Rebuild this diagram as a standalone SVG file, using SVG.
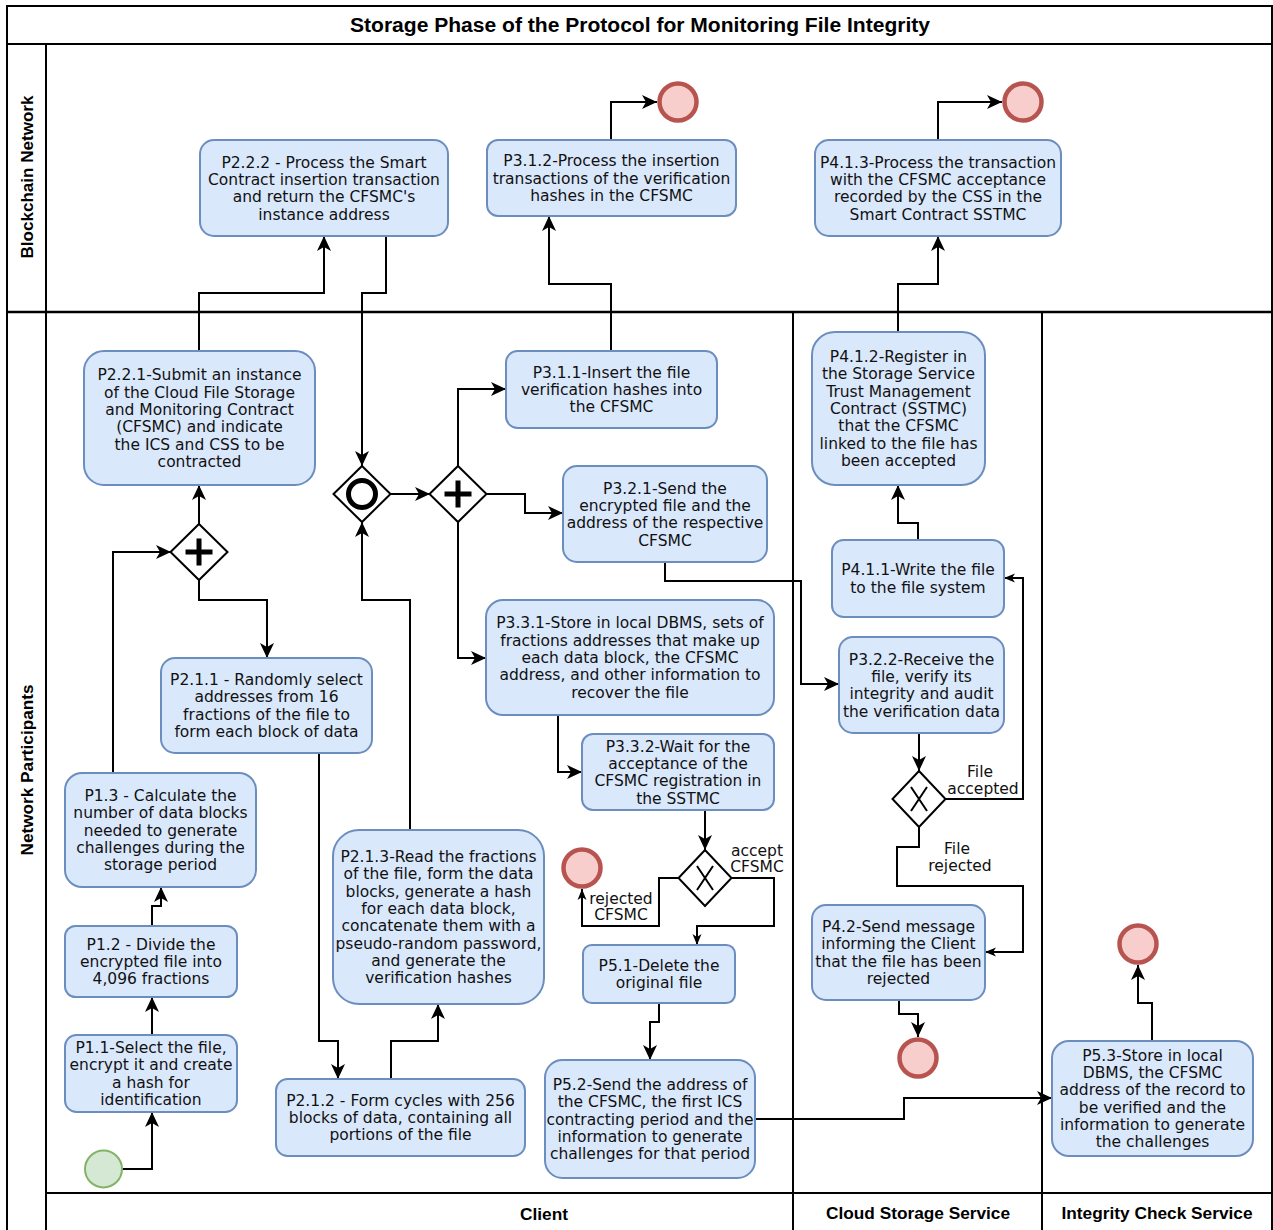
<svg xmlns="http://www.w3.org/2000/svg" width="1273" height="1230" viewBox="0 0 1273 1230">
<style>
.lane{fill:none;stroke:#000;stroke-width:2}
.hdr{font-family:"Liberation Sans",Arial,sans-serif;font-weight:bold;fill:#000;text-anchor:middle}
.node rect{fill:#dae8fc;stroke:#6c8ebf;stroke-width:2}
.node text,.lbl{font-family:"DejaVu Sans",Verdana,sans-serif;font-size:15.5px;fill:#111;text-anchor:middle}
.conn path{fill:none;stroke:#000;stroke-width:2;marker-end:url(#arr)}
.conn path.s{marker-end:url(#arrs)}
.end circle{fill:#f8cecc;stroke:#b85450;stroke-width:4.5}
.start circle{fill:#d5e8d4;stroke:#82b366;stroke-width:2}
.gw .d{fill:#fff;stroke:#000;stroke-width:2}
.gw .plus{stroke:#000;stroke-width:5;fill:none}
.gw .x{stroke:#000;stroke-width:2;fill:none}
.gw .o{fill:none;stroke:#000;stroke-width:5}
</style>
<defs>
<marker id="arr" markerUnits="userSpaceOnUse" markerWidth="16" markerHeight="16" viewBox="0 0 16 16" refX="15" refY="8" orient="auto">
<path d="M0,1 L15,8 L0,15 L4,8 z" fill="#000"/>
</marker>
<marker id="arrs" markerUnits="userSpaceOnUse" markerWidth="12" markerHeight="12" viewBox="0 0 12 12" refX="11" refY="6" orient="auto">
<path d="M0,1.5 L11,6 L0,10.5 L3,6 z" fill="#000"/>
</marker>
</defs>
<rect width="1273" height="1230" fill="#fff"/>
<g id="lanes">
<rect class="lane" x="7" y="6" width="1265" height="1240"/>
<line class="lane" x1="7" y1="44" x2="1272" y2="44"/>
<line class="lane" x1="46" y1="44" x2="46" y2="1230"/>
<line class="lane" x1="7" y1="312" x2="1272" y2="312" style="stroke-width:2.5"/>
<line class="lane" x1="793" y1="312" x2="793" y2="1230"/>
<line class="lane" x1="1042" y1="312" x2="1042" y2="1230"/>
<line class="lane" x1="46" y1="1193" x2="1272" y2="1193"/>
<text class="hdr" x="640" y="32" font-size="20" textLength="580" lengthAdjust="spacingAndGlyphs">Storage Phase of the Protocol for Monitoring File Integrity</text>
<text class="hdr" x="0" y="0" font-size="16" transform="translate(33,177) rotate(-90)" textLength="163" lengthAdjust="spacingAndGlyphs">Blockchain Network</text>
<text class="hdr" x="0" y="0" font-size="16" transform="translate(33,770) rotate(-90)" textLength="171" lengthAdjust="spacingAndGlyphs">Network Participants</text>
<text class="hdr" x="544" y="1220" font-size="16" textLength="48" lengthAdjust="spacingAndGlyphs">Client</text>
<text class="hdr" x="918" y="1219" font-size="16" textLength="184" lengthAdjust="spacingAndGlyphs">Cloud Storage Service</text>
<text class="hdr" x="1157" y="1219" font-size="16" textLength="191" lengthAdjust="spacingAndGlyphs">Integrity Check Service</text>
</g>
<g id="connectors" class="conn">
<path d="M199,351 V293 H324 V236"/>
<path d="M386,236 V293 H362 V466"/>
<path d="M611,351 V284 H549 V216"/>
<path d="M611,140 V102 H657"/>
<path d="M898,332 V284 H938 V236"/>
<path d="M938,140 V102 H1002"/>
<path d="M199,524 V485"/>
<path d="M113,773 V552 H171"/>
<path d="M199,580 V600 H267 V658"/>
<path d="M410,830 V600 H362 V522"/>
<path d="M390,494 H430"/>
<path d="M458,466 V389 H506"/>
<path d="M487,494 H525 V513 H563"/>
<path d="M458,522 V658 H486"/>
<path d="M665,562 V581 H801 V684 H839"/>
<path d="M558,715 V772 H582"/>
<path d="M705,810 V850"/>
<path class="s" d="M679,878 H659 V926 H582 V889"/>
<path class="s" d="M732,878 H774 V926 H697 V945"/>
<path d="M659,1003 V1022 H650 V1060"/>
<path d="M755,1119 H904 V1098 H1052"/>
<path d="M1152,1041 V1003 H1138 V965"/>
<path d="M918,540 V523 H898 V485"/>
<path d="M919,733 V771"/>
<path class="s" d="M946,799 H1023 V578 H1004"/>
<path class="s" d="M919,827 V847 H897 V886 H1023 V952 H985"/>
<path d="M899,1000 V1014 H918 V1037"/>
<path d="M122,1169 H152 V1112"/>
<path d="M152,1035 V997"/>
<path d="M152,926 V906 H161 V887"/>
<path d="M319,753 V1041 H338 V1079"/>
<path d="M391,1079 V1041 H438 V1004"/>
</g>
<g id="edge-labels">
<text class="lbl" x="980" y="777">File</text>
<text class="lbl" x="983" y="794">accepted</text>
<text class="lbl" x="957" y="854">File</text>
<text class="lbl" x="960" y="871">rejected</text>
<text class="lbl" x="757" y="856">accept</text>
<text class="lbl" x="757" y="872">CFSMC</text>
<text class="lbl" x="621" y="904">rejected</text>
<text class="lbl" x="621" y="920">CFSMC</text>
</g>
<g id="P2.2.2" class="node"><rect x="200" y="140" width="248" height="96" rx="14"/><text><tspan x="324" y="167.6">P2.2.2 - Process the Smart</tspan><tspan x="324" y="184.9">Contract insertion transaction</tspan><tspan x="324" y="202.2">and return the CFSMC's</tspan><tspan x="324" y="219.5">instance address</tspan></text></g>
<g id="P3.1.2" class="node"><rect x="487" y="140" width="249" height="76" rx="11"/><text><tspan x="611.5" y="166.2">P3.1.2-Process the insertion</tspan><tspan x="611.5" y="183.5">transactions of the verification</tspan><tspan x="611.5" y="200.8">hashes in the CFSMC</tspan></text></g>
<g id="P4.1.3" class="node"><rect x="815" y="140" width="246" height="96" rx="14"/><text><tspan x="938" y="167.6">P4.1.3-Process the transaction</tspan><tspan x="938" y="184.9">with the CFSMC acceptance</tspan><tspan x="938" y="202.2">recorded by the CSS in the</tspan><tspan x="938" y="219.5">Smart Contract SSTMC</tspan></text></g>
<g id="P2.2.1" class="node"><rect x="84" y="351" width="231" height="134" rx="20"/><text><tspan x="199.5" y="380.3">P2.2.1-Submit an instance</tspan><tspan x="199.5" y="397.6">of the Cloud File Storage</tspan><tspan x="199.5" y="414.9">and Monitoring Contract</tspan><tspan x="199.5" y="432.2">(CFSMC) and indicate</tspan><tspan x="199.5" y="449.5">the ICS and CSS to be</tspan><tspan x="199.5" y="466.8">contracted</tspan></text></g>
<g id="P3.1.1" class="node"><rect x="506" y="351" width="211" height="77" rx="11.5"/><text><tspan x="611.5" y="377.7">P3.1.1-Insert the file</tspan><tspan x="611.5" y="395">verification hashes into</tspan><tspan x="611.5" y="412.3">the CFSMC</tspan></text></g>
<g id="P3.2.1" class="node"><rect x="563" y="466" width="204" height="96" rx="14"/><text><tspan x="665" y="493.6">P3.2.1-Send the</tspan><tspan x="665" y="510.9">encrypted file and the</tspan><tspan x="665" y="528.2">address of the respective</tspan><tspan x="665" y="545.5">CFSMC</tspan></text></g>
<g id="P3.3.1" class="node"><rect x="486" y="600" width="288" height="115" rx="17"/><text><tspan x="630" y="628.4">P3.3.1-Store in local DBMS, sets of</tspan><tspan x="630" y="645.7">fractions addresses that make up</tspan><tspan x="630" y="663">each data block, the CFSMC</tspan><tspan x="630" y="680.3">address, and other information to</tspan><tspan x="630" y="697.6">recover the file</tspan></text></g>
<g id="P4.1.2" class="node"><rect x="812" y="332" width="173" height="153" rx="23"/><text><tspan x="898.5" y="362.1">P4.1.2-Register in</tspan><tspan x="898.5" y="379.4">the Storage Service</tspan><tspan x="898.5" y="396.7">Trust Management</tspan><tspan x="898.5" y="414">Contract (SSTMC)</tspan><tspan x="898.5" y="431.3">that the CFSMC</tspan><tspan x="898.5" y="448.6">linked to the file has</tspan><tspan x="898.5" y="465.9">been accepted</tspan></text></g>
<g id="P4.1.1" class="node"><rect x="832" y="540" width="172" height="77" rx="11.5"/><text><tspan x="918" y="575.4">P4.1.1-Write the file</tspan><tspan x="918" y="592.7">to the file system</tspan></text></g>
<g id="P3.2.2" class="node"><rect x="839" y="637" width="165" height="96" rx="14"/><text><tspan x="921.5" y="664.6">P3.2.2-Receive the</tspan><tspan x="921.5" y="681.9">file, verify its</tspan><tspan x="921.5" y="699.2">integrity and audit</tspan><tspan x="921.5" y="716.5">the verification data</tspan></text></g>
<g id="P2.1.1" class="node"><rect x="161" y="658" width="211" height="95" rx="14"/><text><tspan x="266.5" y="685.1">P2.1.1 - Randomly select</tspan><tspan x="266.5" y="702.4">addresses from 16</tspan><tspan x="266.5" y="719.7">fractions of the file to</tspan><tspan x="266.5" y="737">form each block of data</tspan></text></g>
<g id="P3.3.2" class="node"><rect x="582" y="734" width="192" height="76" rx="11"/><text><tspan x="678" y="751.6">P3.3.2-Wait for the</tspan><tspan x="678" y="768.9">acceptance of the</tspan><tspan x="678" y="786.2">CFSMC registration in</tspan><tspan x="678" y="803.5">the SSTMC</tspan></text></g>
<g id="P1.3" class="node"><rect x="65" y="773" width="191" height="114" rx="17"/><text><tspan x="160.5" y="800.9">P1.3 - Calculate the</tspan><tspan x="160.5" y="818.2">number of data blocks</tspan><tspan x="160.5" y="835.5">needed to generate</tspan><tspan x="160.5" y="852.8">challenges during the</tspan><tspan x="160.5" y="870.1">storage period</tspan></text></g>
<g id="P2.1.3" class="node"><rect x="333" y="830" width="211" height="174" rx="26"/><text><tspan x="438.5" y="862">P2.1.3-Read the fractions</tspan><tspan x="438.5" y="879.3">of the file, form the data</tspan><tspan x="438.5" y="896.6">blocks, generate a hash</tspan><tspan x="438.5" y="913.9">for each data block,</tspan><tspan x="438.5" y="931.2">concatenate them with a</tspan><tspan x="438.5" y="948.5">pseudo-random password,</tspan><tspan x="438.5" y="965.8">and generate the</tspan><tspan x="438.5" y="983.1">verification hashes</tspan></text></g>
<g id="P1.2" class="node"><rect x="65" y="926" width="172" height="71" rx="10.5"/><text><tspan x="151" y="949.7">P1.2 - Divide the</tspan><tspan x="151" y="967">encrypted file into</tspan><tspan x="151" y="984.3">4,096 fractions</tspan></text></g>
<g id="P4.2" class="node"><rect x="812" y="905" width="173" height="95" rx="14"/><text><tspan x="898.5" y="932.1">P4.2-Send message</tspan><tspan x="898.5" y="949.4">informing the Client</tspan><tspan x="898.5" y="966.7">that the file has been</tspan><tspan x="898.5" y="984">rejected</tspan></text></g>
<g id="P5.1" class="node"><rect x="583" y="945" width="152" height="58" rx="8.7"/><text><tspan x="659" y="970.9">P5.1-Delete the</tspan><tspan x="659" y="988.2">original file</tspan></text></g>
<g id="P1.1" class="node"><rect x="65" y="1035" width="172" height="77" rx="11.5"/><text><tspan x="151" y="1053.1">P1.1-Select the file,</tspan><tspan x="151" y="1070.4">encrypt it and create</tspan><tspan x="151" y="1087.7">a hash for</tspan><tspan x="151" y="1105">identification</tspan></text></g>
<g id="P5.3" class="node"><rect x="1052" y="1041" width="201" height="115" rx="17"/><text><tspan x="1152.5" y="1060.8">P5.3-Store in local</tspan><tspan x="1152.5" y="1078.1">DBMS, the CFSMC</tspan><tspan x="1152.5" y="1095.4">address of the record to</tspan><tspan x="1152.5" y="1112.7">be verified and the</tspan><tspan x="1152.5" y="1130">information to generate</tspan><tspan x="1152.5" y="1147.3">the challenges</tspan></text></g>
<g id="P2.1.2" class="node"><rect x="276" y="1079" width="249" height="77" rx="11.5"/><text><tspan x="400.5" y="1105.7">P2.1.2 - Form cycles with 256</tspan><tspan x="400.5" y="1123">blocks of data, containing all</tspan><tspan x="400.5" y="1140.3">portions of the file</tspan></text></g>
<g id="P5.2" class="node"><rect x="545" y="1060" width="210" height="118" rx="17.5"/><text><tspan x="650" y="1089.9">P5.2-Send the address of</tspan><tspan x="650" y="1107.2">the CFSMC, the first ICS</tspan><tspan x="650" y="1124.5">contracting period and the</tspan><tspan x="650" y="1141.8">information to generate</tspan><tspan x="650" y="1159.1">challenges for that period</tspan></text></g>
<g id="G1" class="gw"><path class="d" d="M199,524 L227.5,552 L199,580 L170.5,552 z"/><path class="plus" d="M185.5,552 H212.5 M199,538.5 V565.5"/></g>
<g id="G2" class="gw"><path class="d" d="M362,466 L390.5,494 L362,522 L333.5,494 z"/><circle class="o" cx="362" cy="494" r="13.5"/></g>
<g id="G3" class="gw"><path class="d" d="M458,466 L486.5,494 L458,522 L429.5,494 z"/><path class="plus" d="M444.5,494 H471.5 M458,480.5 V507.5"/></g>
<g id="G4" class="gw"><path class="d" d="M705,850 L731.5,878 L705,906 L678.5,878 z"/><path class="x" d="M697,866 L713,890 M713,866 L697,890"/></g>
<g id="G5" class="gw"><path class="d" d="M919,771 L945.5,799 L919,827 L892.5,799 z"/><path class="x" d="M911,787 L927,811 M927,787 L911,811"/></g>
<g id="E1" class="end"><circle cx="678" cy="102" r="18.5"/></g>
<g id="E2" class="end"><circle cx="1023" cy="102" r="18.5"/></g>
<g id="E3" class="end"><circle cx="582" cy="868" r="18.5"/></g>
<g id="E4" class="end"><circle cx="918" cy="1058" r="18.5"/></g>
<g id="E5" class="end"><circle cx="1138" cy="944" r="18.5"/></g>
<g id="S1" class="start"><circle cx="103.5" cy="1169" r="18.5"/></g>
</svg>
